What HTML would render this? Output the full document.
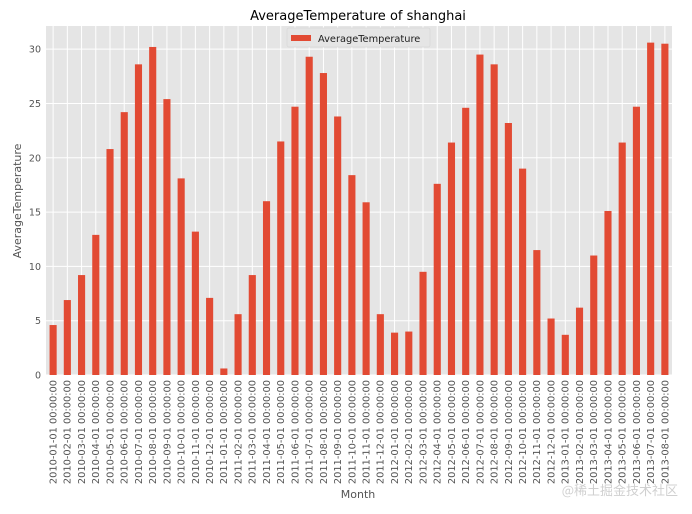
<!DOCTYPE html>
<html><head><meta charset="utf-8"><style>
body{margin:0;background:#fff;}
svg{display:block;font-family:"DejaVu Sans","Liberation Sans","Noto Sans CJK SC",sans-serif;}
</style></head><body>
<svg id="chart" width="692" height="514" viewBox="0 0 692 514">
<rect x="46" y="26" width="626" height="349" fill="#e5e5e5"/>
<g id="grid"></g>
<g id="bars"></g>
<g id="yticks"></g>
<g id="xticks"></g>
<text x="358" y="20" font-size="13" text-anchor="middle" fill="#000">AverageTemperature of shanghai</text>
<text transform="translate(21,201) rotate(-90)" font-size="11" text-anchor="middle" fill="#555">AverageTemperature</text>
<text x="358" y="498" font-size="11" text-anchor="middle" fill="#555">Month</text>
<g>
<rect x="287" y="28" width="143" height="19" rx="2" fill="#e5e5e5" stroke="#d8d8d8" stroke-width="0.8"/>
<rect x="291" y="35" width="20" height="6" fill="#e24a33"/>
<text x="318" y="42" font-size="9.8" fill="#222">AverageTemperature</text>
</g>
<text x="678" y="495" font-size="13" text-anchor="end" fill="#d0d0d0" font-family="'Noto Sans CJK SC',sans-serif">@稀土掘金技术社区</text>
</svg>
<script>
const years = [2010, 2011, 2012, 2013];
const temps2010 = [4.6,6.9,9.2,12.9,20.8,24.2,28.6,30.2,25.4,18.1,13.2,7.1];
const temps2011 = [0.6,5.6,9.2,16.0,21.5,24.7,29.3,27.8,23.8,18.4,15.9,5.6];
const temps2012 = [3.9,4.0,9.5,17.6,21.4,24.6,29.5,28.6,23.2,19.0,11.5,5.2];
const temps2013 = [3.7,6.2,11.0,15.1,21.4,24.7,30.6,30.5];
const yTicks = [0,5,10,15,20,25,30];

const values = [].concat(temps2010,temps2011,temps2012,temps2013);
const categories = [];
const series = [temps2010,temps2011,temps2012,temps2013];
series.forEach((arr,yi)=>arr.forEach((v,mi)=>{
  categories.push(years[yi]+'-'+String(mi+1).padStart(2,'0')+'-01 00:00:00');
}));

const NS='http://www.w3.org/2000/svg';
const L=46,R=672,T=26,B=375,YMAX=32.13;
const n=categories.length, slot=(R-L)/n;
const xc=i=>L+slot*(i+0.5);
const y=v=>B-(v/YMAX)*(B-T);
function mk(tag,attrs,parent){const e=document.createElementNS(NS,tag);for(const k in attrs)e.setAttribute(k,attrs[k]);parent.appendChild(e);return e;}
const grid=document.getElementById('grid'),bars=document.getElementById('bars'),yt=document.getElementById('yticks'),xt=document.getElementById('xticks');
yTicks.forEach(t=>{
  const g=mk('line',{x1:L,x2:R,y1:y(t),y2:y(t),stroke:'#fff','stroke-width':1},grid);
  
  
  const tx=mk('text',{x:L-5,y:y(t)+3.5,'font-size':9.5,'text-anchor':'end',fill:'#555'},yt);
  tx.textContent=t;
  
  
});
categories.forEach((c,i)=>{
  const g=mk('line',{x1:xc(i),x2:xc(i),y1:T,y2:B,stroke:'#fff','stroke-width':1},grid);
  
  
  const v=values[i];
  const b=mk('rect',{x:xc(i)-slot/4,width:slot/2,y:y(v),height:B-y(v),fill:'#e24a33'},bars);
  
  
  const tx=mk('text',{transform:'translate('+(xc(i)+3.4)+',380) rotate(-90)','font-size':9.8,'text-anchor':'end',fill:'#555'},xt);
  tx.textContent=c;
  
  
});
</script>
</body></html>
